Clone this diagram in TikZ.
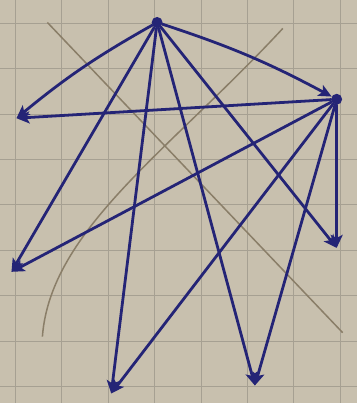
\documentclass[tikz,border=0pt]{standalone}
\usetikzlibrary{arrows.meta}
\definecolor{paper}{RGB}{200,192,174}
\definecolor{gridgray}{RGB}{166,160,146}
\definecolor{ink}{RGB}{36,36,118}
\definecolor{pencil}{RGB}{138,126,104}
\begin{document}
\begin{tikzpicture}[x=1pt,y=-1pt,>={Stealth[length=13pt,width=12pt,inset=3pt]},
  edge/.style={ink,line width=2.8pt,->,line cap=round},
  src/.style={circle,fill=ink,inner sep=0pt,minimum size=11pt}]
  % paper
  \fill[paper] (0,0) rectangle (357,403);
  \foreach \gx in {15,61.5,...,357} \draw[gridgray,line width=1pt] (\gx,0) -- (\gx,403);
  \foreach \gy in {23,68.5,...,403} \draw[gridgray,line width=1pt] (0,\gy) -- (357,\gy);
  % pencil marks
  \draw[pencil,line width=1.5pt] (47,22) -- (343,333);
  \draw[pencil,line width=1.5pt] (283,28) .. controls (170,150) and (50,230) .. (42,337);
  % vertices
  \node[src] (a) at (157,22) {};
  \node[src] (b) at (337,99) {};
  \coordinate (c) at (16,118);
  \coordinate (d) at (11,272);
  \coordinate (e) at (111,394);
  \coordinate (f) at (255,386);
  \coordinate (g) at (337,248);
  % edges
  \draw[edge] (a) to[bend right=5] (c);
  \draw[edge] (b) -- (c);
  \draw[edge] (a) to[bend left=5] (b);
  \draw[edge] (a) -- (d);
  \draw[edge] (a) -- (e);
  \draw[edge] (a) -- (f);
  \draw[edge] (a) -- (g);
  \draw[edge] (b) -- (d);
  \draw[edge] (b) -- (e);
  \draw[edge] (b) -- (f);
  \draw[edge] (b) -- (g);
\end{tikzpicture}
\end{document}
